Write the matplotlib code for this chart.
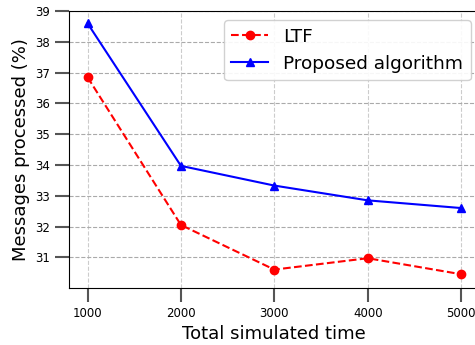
import matplotlib
matplotlib.use("Agg")
import matplotlib.pyplot as plt

sim_time = [1000, 2000, 3000, 4000, 5000]
ltf = [36.85, 32.05, 30.6, 30.97, 30.45]
proposed = [38.6, 33.97, 33.33, 32.85, 32.6]
yticks = [31, 32, 33, 34, 35, 36, 37, 38, 39]

fig = plt.figure(figsize=(4.75, 3.45), dpi=100)
# axes run a little past the right edge, as in the cropped original
ax = fig.add_axes([0.145, 0.165, 0.865, 0.803])

ax.plot(sim_time, ltf, "r--o", ms=6, lw=1.5, label="LTF")
ax.plot(sim_time, proposed, "b-^", ms=6, lw=1.5, label="Proposed algorithm")

ax.set_xlim(800, 5200)
ax.set_ylim(30.0, 39.0)
ax.set_xticks(sim_time)
ax.set_yticks(yticks)
ax.tick_params(length=10, width=1.5, color="#555555", labelsize=8.5)
ax.grid(axis="y", ls="--", color="#aaaaaa", lw=0.8)
ax.grid(axis="x", ls="--", color="#cccccc", lw=0.8)

ax.set_xlabel("Total simulated time", fontsize=13)
ax.set_ylabel("Messages processed (%)", fontsize=13)
ax.legend(loc="upper right", fontsize=13.3, framealpha=0.9)

fig.savefig("out.png", dpi=100)
